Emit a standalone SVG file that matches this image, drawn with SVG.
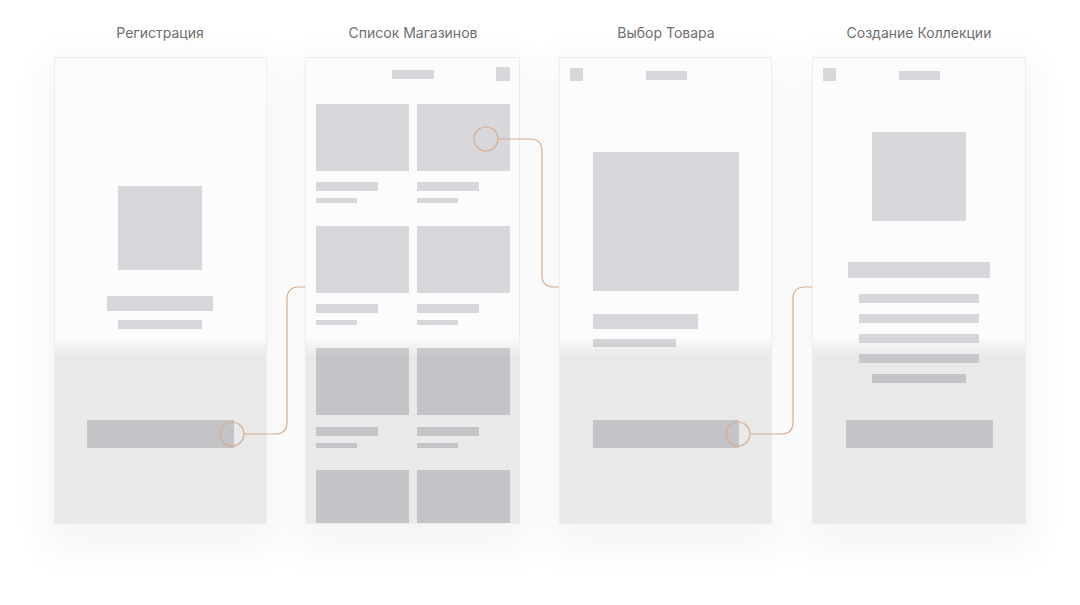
<svg xmlns="http://www.w3.org/2000/svg" width="1080" height="605" viewBox="0 0 1080 605">
<defs>
<style>
.title{font-family:"Inter","Liberation Sans",Arial,sans-serif;font-size:14px;fill:#6e6e6e;text-anchor:middle}
.panel{fill:#fcfcfc;stroke:#ededed;stroke-width:1}
.sh{fill:#000;opacity:0.035;filter:url(#blur)}
.blk{fill:#d8d7dc}
.blk2{fill:#d4d3d8}
.fog{fill:url(#fog)}
.conn{fill:none;stroke:#d6ac8f;stroke-width:1.2}
.ring{fill:none;stroke:#d6ac8f;stroke-width:1.2}
</style>
<filter id="blur" x="-30%" y="-20%" width="160%" height="140%"><feGaussianBlur stdDeviation="18"/></filter>
<linearGradient id="fog" gradientUnits="userSpaceOnUse" x1="0" y1="336" x2="0" y2="356">
<stop offset="0" stop-color="#000" stop-opacity="0"/>
<stop offset="1" stop-color="#000" stop-opacity="0.075"/>
</linearGradient>
</defs>
<rect width="1080" height="605" fill="#ffffff"/>

<g id="shadows">
<rect class="sh" x="44" y="57" width="233" height="495"/>
<rect class="sh" x="295" y="57" width="235" height="495"/>
<rect class="sh" x="549" y="57" width="233" height="495"/>
<rect class="sh" x="802" y="57" width="234" height="495"/>
</g>

<g id="screen-registration">
<text class="title" x="160" y="38">Регистрация</text>
<rect class="panel" x="54.5" y="57.5" width="212" height="466"/>
<rect class="blk" x="118" y="186" width="84" height="84"/>
<rect class="blk" x="107" y="296" width="106" height="15"/>
<rect class="blk" x="118" y="320" width="84" height="9"/>
<rect class="blk2" x="87" y="420" width="147" height="28"/>
<rect class="fog" x="55" y="336" width="211" height="187"/>
</g>

<g id="screen-shops">
<text class="title" x="413" y="38">Список Магазинов</text>
<rect class="panel" x="305.5" y="57.5" width="214" height="466"/>
<rect class="blk" x="392" y="70" width="42" height="9"/>
<rect class="blk" x="496" y="67" width="14" height="14"/>
<rect class="blk" x="316" y="104" width="93" height="67"/>
<rect class="blk" x="417" y="104" width="93" height="67"/>
<rect class="blk" x="316" y="182" width="62" height="9"/>
<rect class="blk" x="417" y="182" width="62" height="9"/>
<rect class="blk" x="316" y="198" width="41" height="5"/>
<rect class="blk" x="417" y="198" width="41" height="5"/>
<rect class="blk" x="316" y="226" width="93" height="67"/>
<rect class="blk" x="417" y="226" width="93" height="67"/>
<rect class="blk" x="316" y="304" width="62" height="9"/>
<rect class="blk" x="417" y="304" width="62" height="9"/>
<rect class="blk" x="316" y="320" width="41" height="5"/>
<rect class="blk" x="417" y="320" width="41" height="5"/>
<rect class="blk2" x="316" y="348" width="93" height="67"/>
<rect class="blk2" x="417" y="348" width="93" height="67"/>
<rect class="blk2" x="316" y="427" width="62" height="9"/>
<rect class="blk2" x="417" y="427" width="62" height="9"/>
<rect class="blk2" x="316" y="443" width="41" height="5"/>
<rect class="blk2" x="417" y="443" width="41" height="5"/>
<rect class="blk2" x="316" y="470" width="93" height="53"/>
<rect class="blk2" x="417" y="470" width="93" height="53"/>
<rect class="fog" x="306" y="336" width="213" height="187"/>
</g>

<g id="screen-product">
<text class="title" x="666" y="38">Выбор Товара</text>
<rect class="panel" x="559.5" y="57.5" width="212" height="466"/>
<rect class="blk" x="570" y="68" width="13" height="13"/>
<rect class="blk" x="646" y="71" width="41" height="9"/>
<rect class="blk" x="593" y="152" width="146" height="139"/>
<rect class="blk" x="593" y="314" width="105" height="15"/>
<rect class="blk" x="593" y="339" width="83" height="8"/>
<rect class="blk2" x="593" y="420" width="146" height="28"/>
<rect class="fog" x="560" y="336" width="211" height="187"/>
</g>

<g id="screen-collection">
<text class="title" x="919" y="38">Создание Коллекции</text>
<rect class="panel" x="812.5" y="57.5" width="213" height="466"/>
<rect class="blk" x="823" y="68" width="13" height="13"/>
<rect class="blk" x="899" y="71" width="41" height="9"/>
<rect class="blk" x="872" y="132" width="94" height="89"/>
<rect class="blk" x="848" y="262" width="142" height="16"/>
<rect class="blk" x="859" y="294" width="120" height="9"/>
<rect class="blk" x="859" y="314" width="120" height="9"/>
<rect class="blk" x="859" y="334" width="120" height="9"/>
<rect class="blk" x="859" y="354" width="120" height="9"/>
<rect class="blk2" x="872" y="374" width="94" height="9"/>
<rect class="blk2" x="846" y="420" width="147" height="28"/>
<rect class="fog" x="813" y="336" width="212" height="187"/>
</g>

<g id="connectors">
<circle class="ring" cx="232" cy="434" r="12"/>
<path class="conn" d="M244 434 H275 Q287 434 287 422 V299 Q287 287 299 287 H305"/>
<circle class="ring" cx="486" cy="139" r="12"/>
<path class="conn" d="M498 139 H530 Q542 139 542 151 V275 Q542 287 554 287 H559"/>
<circle class="ring" cx="738" cy="434" r="12"/>
<path class="conn" d="M750 434 H781 Q793 434 793 422 V299 Q793 287 805 287 H812"/>
</g>
</svg>
